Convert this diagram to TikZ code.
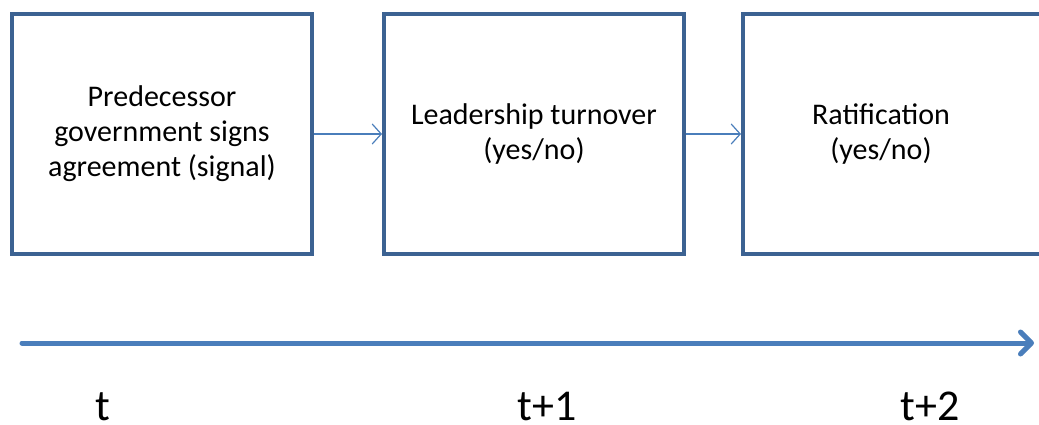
\documentclass[tikz,border=0pt]{standalone}
\usepackage{fontspec}
\setmainfont{Carlito}
\usetikzlibrary{arrows.meta}
\definecolor{boxblue}{HTML}{3C6292}
\definecolor{arrblue}{HTML}{4A7EBB}
\begin{document}
\begin{tikzpicture}[x=1pt,y=-1pt,
  stage/.style={draw=boxblue, line width=4pt, fill=white, minimum width=300pt, minimum height=240pt, align=center, font=\fontsize{30}{35}\selectfont, inner sep=0pt},
  link/.style={draw=arrblue, line width=1.2pt, -{Straight Barb[length=9pt,width=20pt]}},
  timeline/.style={draw=arrblue, line width=5pt, line cap=round, -{Straight Barb[length=11pt,width=22pt,round]}},
  tlabel/.style={font=\fontsize{44}{48}\selectfont, inner sep=0pt, anchor=base}]
\useasboundingbox (0,0) rectangle (1039,425);
\clip (0,0) rectangle (1039,425);
\node[stage] (b1) at (162,134) {Predecessor\\government signs\\agreement (signal)};
\node[stage] (b2) at (534,134) {Leadership turnover\\(yes/no)};
\node[stage, anchor=west, minimum width=320pt] (b3) at (741,134) {\hspace*{-44pt}Ratification\\\hspace*{-44pt}(yes/no)};
\draw[link] (b1.east) -- (b2.west);
\draw[link] (b2.east) -- (b3.west);
\coordinate (ts) at (22,343);
\coordinate (te) at (1034,343);
\draw[timeline] (ts) -- (te);
\node[tlabel] (l0) at (103,420) {t};
\node[tlabel] (l1) at (547,420) {t+1};
\node[tlabel] (l2) at (930,420) {t+2};
\end{tikzpicture}
\end{document}
